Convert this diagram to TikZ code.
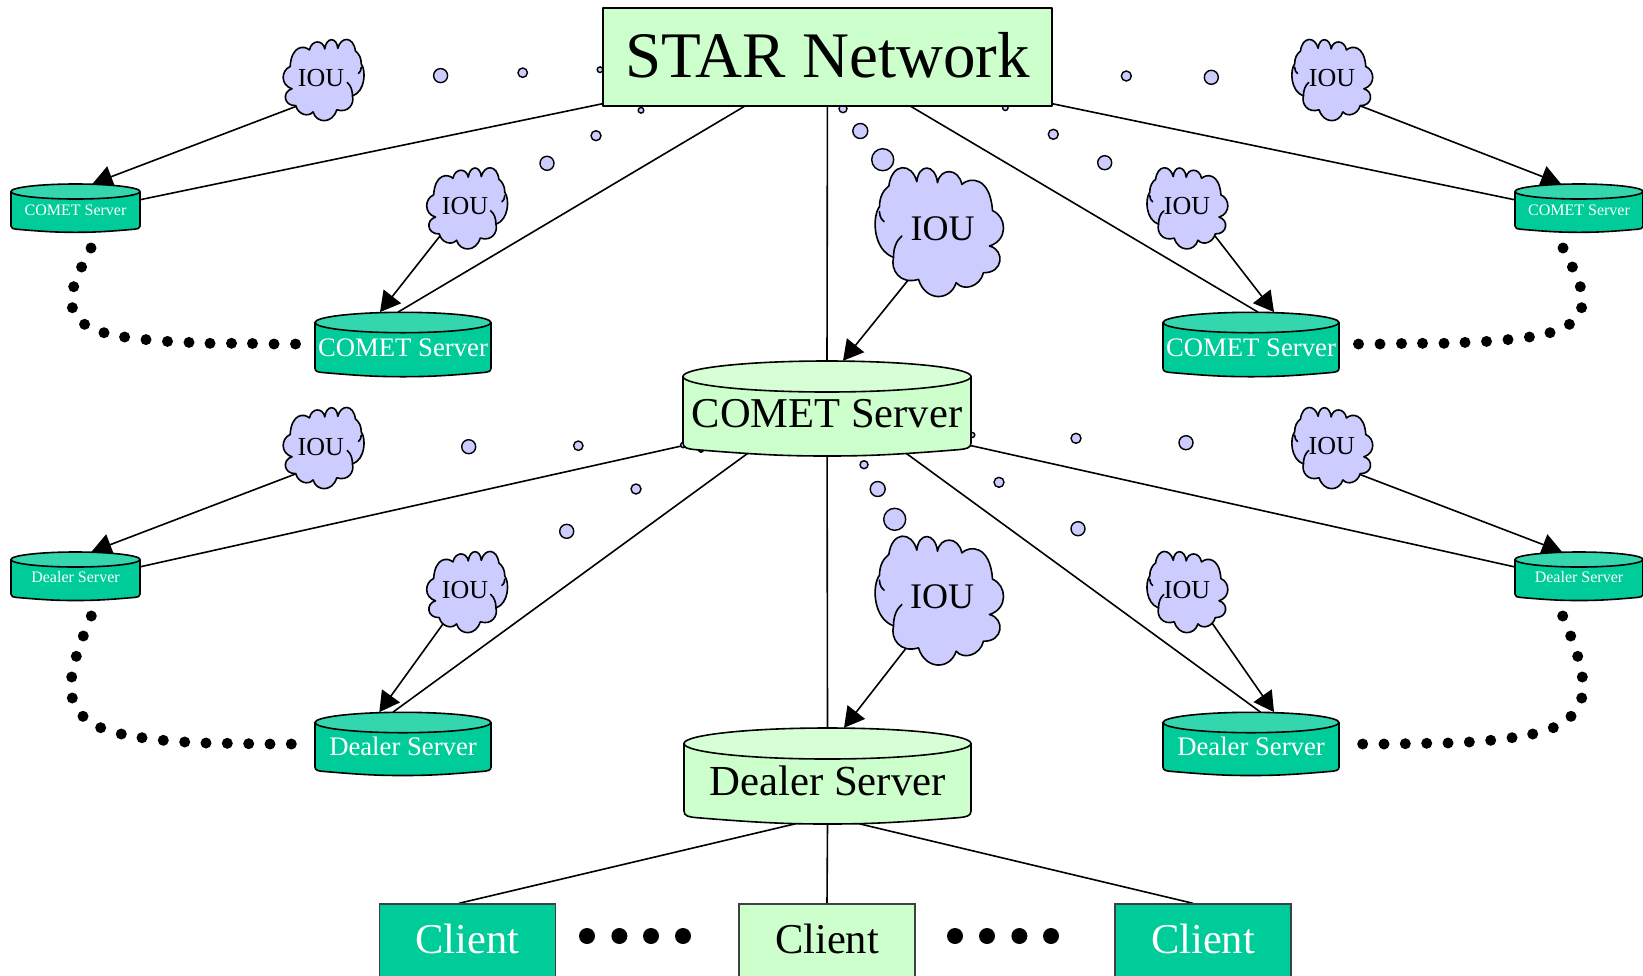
\documentclass[tikz,border=0pt]{standalone}
\usepackage{fontspec}
\setmainfont{Liberation Serif}
\usetikzlibrary{arrows.meta}
\pgfdeclarelayer{bg}
\pgfsetlayers{bg,main}
\definecolor{teal}{HTML}{00CC99}
\definecolor{tealtop}{HTML}{33D6AD}
\definecolor{mint}{HTML}{CCFFCC}
\definecolor{minttop}{HTML}{D6FFD6}
\definecolor{lilac}{HTML}{CCCCFF}
\tikzset{
  outline/.style={draw=black,line width=1.6pt,line join=round},
  link/.style={draw=black,line width=1.6pt},
  arrowlink/.style={draw=black,line width=1.6pt,-{Triangle[length=20pt,width=22pt]}},
  bubble/.style={fill=lilac,draw=black,line width=1.4pt},
  dotmark/.style={fill=black},
  clientbox/.style={rectangle,draw=black!75,line width=1.4pt,minimum width=176pt,minimum height=73pt,inner sep=0pt},
  iounode/.style={circle,inner sep=0pt,text=black},
}
\newcommand{\fs}[1]{\fontsize{#1pt}{#1pt}\selectfont}
\newcommand{\cylcolors}[3]{\def\cylbody{#1}\def\cyltop{#2}\def\cyltext{#3}}
% name, left, right, top, bottom, rim radius, font size, baseline, text
\newcommand{\cyl}[9]{%
  \pgfmathsetmacro\cmx{(#2+#3)/2}%
  \pgfmathsetmacro\chw{(#3-#2)/2}%
  \pgfmathsetmacro\cmy{(#4+#5)/2}%
  \pgfmathsetmacro\ch{0.83*#6}%
  \pgfmathsetmacro\cyd{#8-\cmy}%
  \pgfmathsetmacro\ccx{0.08*\chw}%
  \path[fill=\cylbody,outline]
    (#2,#4+#6) -- (#2,#5-\ch)
    .. controls (#2,#5-0.6*\ch) and (#2+0.5*\ccx,#5-0.55*\ch) .. (#2+\ccx,#5-0.5*\ch)
    .. controls (#2+0.5*\chw,#5-0.12*\ch) and (\cmx-0.3*\chw,#5) .. (\cmx,#5)
    .. controls (\cmx+0.3*\chw,#5) and (#3-0.5*\chw,#5-0.12*\ch) .. (#3-\ccx,#5-0.5*\ch)
    .. controls (#3-0.5*\ccx,#5-0.55*\ch) and (#3,#5-0.6*\ch) .. (#3,#5-\ch)
    -- (#3,#4+#6) -- cycle;
  \path[fill=\cyltop,outline] (\cmx,#4+#6) ellipse [x radius=\chw pt,y radius=#6 pt];
  \node[rectangle,inner sep=0pt,minimum width=2*\chw pt,minimum height=#5pt-#4pt,text=\cyltext,font=\fs{#7}]
    (#1) at (\cmx,\cmy) {\raisebox{-\cyd pt}[0pt][0pt]{#9}};
}
\newcommand{\cloudoutline}{
  (880,772) .. controls (818,750) and (815,650) .. (838,620)
  .. controls (838,590) and (850,570) .. (866,558)
  .. controls (875,487) and (935,487) .. (950,545)
  .. controls (955,490) and (1005,490) .. (1012,548)
  .. controls (1020,503) and (1075,503) .. (1085,553)
  .. controls (1110,530) and (1170,530) .. (1177,632)
  .. controls (1220,650) and (1225,720) .. (1168,738)
  .. controls (1215,750) and (1210,820) .. (1150,818)
  .. controls (1140,860) and (1090,875) .. (1068,848)
  .. controls (1050,905) and (975,905) .. (955,838)
  .. controls (900,855) and (870,810) .. (880,772) -- cycle
}
% name, cloud x, cloud y, text x, text y, mirror, scale, font size, node radius
\newcommand{\iou}[9]{%
  \begin{scope}[shift={(#2,#3)},xscale=#6*#7/3,yscale=#7/3,shift={(-1018,-696)}]
    \path[fill=lilac,outline] \cloudoutline;
    \draw[line width=1.6pt,line cap=round] (880,772) .. controls (880,745) and (888,722) .. (905,708);
    \draw[line width=1.6pt,line cap=round] (838,635) .. controls (838,650) and (845,660) .. (852,665);
  \end{scope}
  \node[iounode,minimum size=#9*2pt,font=\fs{#8}] (#1) at (#4,#5) {IOU};
}
\begin{document}
\begin{tikzpicture}[x=1pt,y=-1pt]
\useasboundingbox (0,0) rectangle (1643,975);

% ---- servers
\node[rectangle,outline,fill=mint,minimum width=449pt,minimum height=98pt,inner sep=0pt,font=\fs{65}]
  (star) at (827.5,57) {\raisebox{-20.3pt}[0pt][0pt]{STAR Network}};

\cylcolors{mint}{minttop}{black}
\cyl{cb}{683}{971}{361}{456}{15.5}{42.5}{427}{COMET Server}
\cyl{db}{684}{971}{728}{824}{15.5}{42.8}{795}{Dealer Server}

\cylcolors{teal}{tealtop}{white}
\cyl{csl}{11}{140}{184}{232.3}{7.5}{16}{215}{COMET Server}
\cyl{csr}{1515}{1643}{184}{232.3}{7.5}{16}{215}{COMET Server}
\cyl{cml}{315}{491}{312.3}{376.7}{10.2}{26.7}{356.7}{COMET Server}
\cyl{cmr}{1163}{1339}{312.3}{376.7}{10.2}{26.7}{356.7}{COMET Server}
\cyl{dsl}{11}{140}{552}{600.5}{7.5}{16}{582.7}{Dealer Server}
\cyl{dsr}{1515}{1643}{552}{600.5}{7.5}{16}{582.7}{Dealer Server}
\cyl{dml}{315}{491}{712.3}{775.5}{10.2}{26.7}{755}{Dealer Server}
\cyl{dmr}{1163}{1339}{712.3}{775.5}{10.2}{26.7}{755}{Dealer Server}

% ---- clients
\node[clientbox,fill=teal,text=white,font=\fs{42.5}] (cla) at (467.5,940.5) {\raisebox{-12.5pt}[0pt][0pt]{Client}};
\node[clientbox,fill=mint,text=black,font=\fs{42.5}] (clb) at (827,940.5) {\raisebox{-12.5pt}[0pt][0pt]{Client}};
\node[clientbox,fill=teal,text=white,font=\fs{42.5}] (clc) at (1203,940.5) {\raisebox{-12.5pt}[0pt][0pt]{Client}};

% ---- clouds
\iou{ia}{323.5}{80}{321}{78.3}{-1}{0.63}{26}{30}
\iou{ib}{467}{208.3}{465}{205.7}{-1}{0.63}{26}{30}
\iou{ic}{1332.4}{80}{1332}{78.3}{1}{0.63}{26}{30}
\iou{id}{1187.5}{208.3}{1187}{206}{1}{0.63}{26}{30}
\iou{ie}{939.5}{232}{942.5}{228.3}{1}{1}{36}{48}
\iou{if}{323.5}{448}{320.7}{446.7}{-1}{0.63}{26}{30}
\iou{ig}{467}{592}{465}{590}{-1}{0.63}{26}{30}
\iou{ih}{1332.4}{448}{1331.7}{446.5}{1}{0.63}{26}{30}
\iou{ii}{1187.5}{592}{1187}{590}{1}{0.63}{26}{30}
\iou{ij}{939.5}{600.5}{942}{596.7}{1}{1}{36}{48}

\begin{pgfonlayer}{bg}
\fill[white] (0,0) rectangle (1643,975);

% ---- plain links
\draw[link] (star.center) -- ([yshift=-5pt]csl.center);
\draw[link] (star.center) -- ([xshift=-5pt]cml.north);
\draw[link] (star.center) -- (cb.north);
\draw[link] (star.center) -- ([xshift=7pt]cmr.north);
\draw[link] (star.center) -- ([yshift=-5pt]csr.center);

\draw[link] ([yshift=-5pt]cb.center) -- ([yshift=-5pt]dsl.center);
\draw[link] ([yshift=13pt]cb.center) -- ([xshift=-10pt]dml.north);
\draw[link] (cb.center) -- (db.north);
\draw[link] ([yshift=13pt]cb.center) -- ([xshift=9.5pt]dmr.north);
\draw[link] ([yshift=-5pt]cb.center) -- ([yshift=-5pt]dsr.center);

\draw[link] ([yshift=8pt]db.south) -- ([xshift=-8.5pt]cla.north);
\draw[link] (db.south) -- (clb.north);
\draw[link] ([yshift=8pt]db.south) -- ([xshift=-10pt]clc.north);

% ---- arrows from the clouds
\draw[arrowlink] (ia.236) -- ([xshift=17pt]csl.north);
\draw[arrowlink] (ib.230) -- ([xshift=-23pt]cml.north);
\draw[arrowlink] (ic.-52) -- ([xshift=-18pt]csr.north);
\draw[arrowlink] (id.-45) -- ([xshift=23pt]cmr.north);
\draw[arrowlink] (ie.238.4) -- ([xshift=16pt]cb.north);
\draw[arrowlink] (if.234) -- ([xshift=16pt]dsl.north);
\draw[arrowlink] (ig.238) -- ([xshift=-23.7pt]dml.north);
\draw[arrowlink] (ih.-53) -- ([xshift=-17pt]dsr.north);
\draw[arrowlink] (ii.-52.7) -- ([xshift=23pt]dmr.north);
\draw[arrowlink] (ij.236.3) -- ([xshift=16.5pt]db.north);

% ---- thought bubbles
\foreach \bx/\by/\br in {
  440.6/75.6/7, 522.7/72.7/4.7, 600/69.7/2.8, 641/110.3/2.8, 596/135.7/5, 547/163.3/7,
  843/108.7/4, 860.3/131/7.5, 882.7/159.7/11, 1005.3/107.7/2.8, 1053.3/134.3/5, 1104.7/162.7/7,
  1126.3/76/5, 1211.3/77.3/7,
  468.7/446.7/7, 578.3/445.7/4.7, 683.3/445/2.7, 701/449.7/2.5, 636/489/5, 566.7/531.3/7,
  972.3/435/2.5, 1076/438.3/5, 1186/442.7/7, 864/464.7/4, 877.7/489/7.5, 894.7/519.3/11,
  999/482.3/5, 1078/528.7/7}
  \path[bubble] (\bx,\by) circle [radius=\br pt];
\end{pgfonlayer}

% ---- dotted runs between servers
\foreach \dx/\dy in {
  91/248, 81.6/267, 73.7/286.7, 72.4/307.7, 84.6/324.3, 104/332.7, 124.6/337, 146/339.6,
  167.5/341.4, 189/342.4, 210/343.3, 231.5/343.3, 252.5/343.5, 274/344, 295.5/344,
  91.3/616, 83.3/636, 76.3/656.3, 71.7/677, 72.3/698, 83/716.3, 100.7/727.7, 121.3/734,
  142/737.7, 163.3/740.3, 184.7/742, 206/743, 227.3/743.3, 248.7/743.7, 270/744, 291.3/744}
{
  \path[dotmark] (\dx,\dy) circle [radius=5.5pt];
  \path[dotmark] ({1654-\dx},\dy) circle [radius=5.5pt];
}
% ---- dots between clients
\foreach \dx in {587,619.4,651,683,955,987,1019.4,1051}
  \path[dotmark] (\dx,936) circle [radius=8pt];
\end{tikzpicture}
\end{document}
